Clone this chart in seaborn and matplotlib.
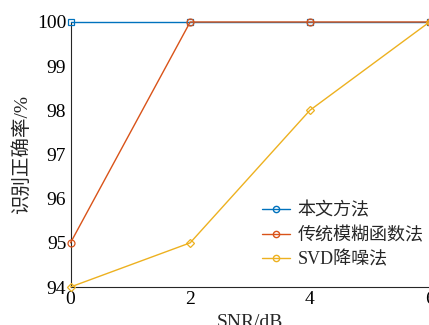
import matplotlib
matplotlib.use('Agg')
import matplotlib.pyplot as plt
import seaborn as sns
import pandas as pd
from matplotlib.lines import Line2D

# data
snr = [0, 2, 4, 6]
ours = [100, 100, 100, 100]
blur = [95, 100, 100, 100]
svd = [94, 95, 98, 100]
names = ['本文方法', '传统模糊函数法', 'SVD降噪法']
colors = ['#0072BD', '#D95319', '#EDB120']
markers = ['s', 'o', 'D']

df = pd.DataFrame({'SNR': snr * 3,
                   'acc': ours + blur + svd,
                   'method': [names[0]] * 4 + [names[1]] * 4 + [names[2]] * 4})

sns.set_style("white")
plt.rcParams['font.family'] = ['Liberation Serif', 'Noto Sans CJK SC']
plt.rcParams['xtick.direction'] = 'in'
plt.rcParams['ytick.direction'] = 'in'

fig = plt.figure(figsize=(4.29, 3.25), dpi=100)
W, H = 429, 325
ax = fig.add_axes([70.5 / W, 1 - 287 / H, (429.5 - 70.5) / W, (287 - 22) / H])

for name, c, m in zip(names, colors, markers):
    d = df[df['method'] == name]
    sns.lineplot(data=d, x='SNR', y='acc', ax=ax, color=c, marker=m,
                 markersize=5 if m != 'D' else 4.5, markerfacecolor='none',
                 markeredgecolor=c, markeredgewidth=0.9, linewidth=1.0,
                 legend=False, clip_on=False, zorder=3)

ax.set_xlim(0, 6)
ax.set_ylim(94, 100)
ax.set_xticks([0, 2, 4, 6])
ax.set_yticks([94, 95, 96, 97, 98, 99, 100])
ax.tick_params(labelsize=14, length=4, width=0.8, colors='#262626', pad=3)
for lbl in ax.get_xticklabels() + ax.get_yticklabels():
    lbl.set_color('black')
for s in ['top', 'right']:
    ax.spines[s].set_visible(False)
for s in ['left', 'bottom']:
    ax.spines[s].set_color('#262626')
    ax.spines[s].set_linewidth(0.8)

ax.set_xlabel('SNR/dB', fontsize=14, labelpad=4)
ax.set_ylabel('识别正确率/%', fontsize=14, labelpad=4)

handles = [Line2D([0], [0], color=c, marker='o', markersize=4.5,
                  markerfacecolor='none', markeredgecolor=c, linewidth=1.0)
           for c in colors]
ax.legend(handles, names, loc='upper left', bbox_to_anchor=(255 / W, 1 - 195 / H),
          bbox_transform=fig.transFigure, frameon=False, fontsize=13,
          handlelength=1.55, handletextpad=0.4, labelspacing=0.4, borderaxespad=0)

fig.savefig('out.png', dpi=100)
